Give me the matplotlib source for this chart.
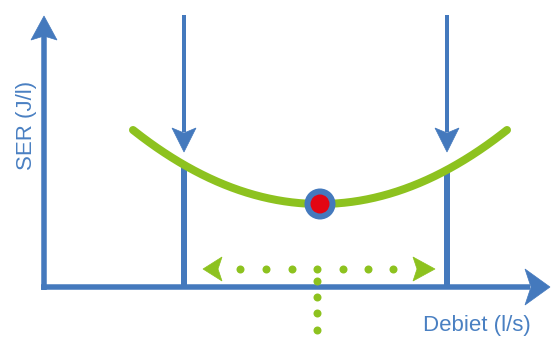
import numpy as np
import matplotlib
matplotlib.use("Agg")
import matplotlib.pyplot as plt
from matplotlib.patches import Polygon, Circle

# ---- schematic values (in canvas units) ----
axis_origin = (44, 287)
y_axis_top = 16
x_axis_right = 550
limit_x = [184, 447]          # the two vertical limit lines
limit_top = 15
limit_arrow_tip = 152
curve_x = [133, 507]          # extent of the SER curve
curve_end_y = 130
curve_min = (320, 204)        # optimum point
range_y = 269
range_tips = [203, 435]
range_dots_x = [240, 266, 292, 317, 343, 368, 393]
drop_x = 317
drop_dots_y = [281, 297, 313, 330]
x_label = "Debiet (l/s)"
y_label = "SER (J/l)"

BLUE = "#4479bd"
GREEN = "#8dc21f"
RED = "#e30613"
TXT = "#4a80c2"

fam = ["Liberation Sans", "DejaVu Sans"]

W, H = 552, 338
fig = plt.figure(figsize=(W / 100, H / 100), dpi=100)
ax = fig.add_axes([0, 0, 1, 1])
ax.set_xlim(0, W)
ax.set_ylim(H, 0)
ax.axis("off")

PX = 0.72  # points per pixel


def arrowhead(tip, d, L, hw, notch, color, z=5):
    tip = np.asarray(tip, float)
    d = np.asarray(d, float)
    d = d / np.linalg.norm(d)
    p = np.array([-d[1], d[0]])
    pts = [tip, tip - L * d + hw * p, tip - (L - notch) * d, tip - L * d - hw * p]
    ax.add_patch(Polygon(pts, closed=True, facecolor=color, edgecolor=color, lw=0.5, zorder=z))


def curve(x):
    k = (curve_end_y - curve_min[1]) / (curve_x[0] - curve_min[0]) ** 2
    return curve_min[1] + k * (np.asarray(x) - curve_min[0]) ** 2


ox, oy = axis_origin
# axes
ax.plot([ox, ox], [oy + 2.75, y_axis_top + 20], color=BLUE, lw=5.5 * PX, solid_capstyle="butt", zorder=4)
arrowhead((ox, y_axis_top), (0, -1), 24, 13, 4, BLUE)
ax.plot([ox - 2.75, x_axis_right - 20], [oy, oy], color=BLUE, lw=5.5 * PX, solid_capstyle="butt", zorder=4)
arrowhead((x_axis_right, oy), (1, 0), 25, 18, 6, BLUE)

# limit lines
for lx in limit_x:
    ax.plot([lx, lx], [limit_top, limit_arrow_tip - 20], color=BLUE, lw=4 * PX, solid_capstyle="butt", zorder=3)
    arrowhead((lx, limit_arrow_tip), (0, 1), 24, 12, 5, BLUE)
    ax.plot([lx, lx], [float(curve(lx)), oy], color=BLUE, lw=6 * PX, solid_capstyle="butt", zorder=3)

# curve
xs = np.linspace(curve_x[0], curve_x[1], 300)
ax.plot(xs, curve(xs), color=GREEN, lw=8 * PX, solid_capstyle="round", zorder=6)

# optimum point
ax.add_patch(Circle(curve_min, 15.5, facecolor=BLUE, edgecolor="none", zorder=7))
ax.add_patch(Circle(curve_min, 9.5, facecolor=RED, edgecolor="none", zorder=8))

# range indicator
ax.plot(range_dots_x, [range_y] * len(range_dots_x), ls="none", marker="o", ms=8 * PX,
        color=GREEN, mec="none", zorder=5)
arrowhead((range_tips[0], range_y), (-1, 0), 19, 12, 4, GREEN)
arrowhead((range_tips[1], range_y), (1, 0), 22, 12, 4, GREEN)
ax.plot([drop_x] * len(drop_dots_y), drop_dots_y, ls="none", marker="o", ms=8 * PX,
        color=GREEN, mec="none", zorder=5)

# labels
ax.text(423, 331, x_label, color=TXT, fontsize=16, family=fam, ha="left", va="baseline")
ax.text(32, 170, y_label, color=TXT, fontsize=16, family=fam, rotation=90,
        rotation_mode="anchor", ha="left", va="baseline")

fig.savefig("out.png", dpi=100)
